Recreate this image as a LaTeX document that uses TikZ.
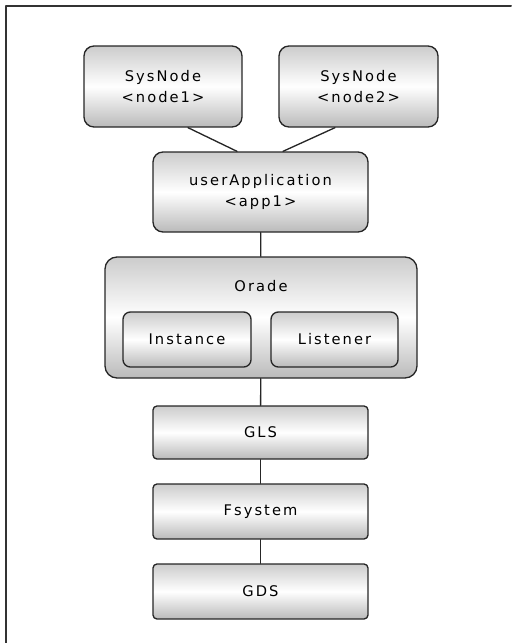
\documentclass[tikz,border=0pt]{standalone}
\usepackage{fontspec}
\setmainfont{DejaVu Sans}
\usetikzlibrary{calc}
\begin{document}
\begin{tikzpicture}[x=0.75pt,y=-0.75pt,line join=round,line cap=round,
	font=\fontsize{11}{13.5}\selectfont\addfontfeature{LetterSpace=14},
	box/.style={draw=black!85,line width=1pt,rounded corners=7.5pt,align=center,inner sep=0pt,
		top color=black!20,bottom color=black!27,middle color=white},
	flat/.style={box,rounded corners=3pt},
	link/.style={draw=black!85,line width=1pt}]
	\useasboundingbox (0,0) rectangle (511,643);
	\draw[line width=1.5pt,black!80] (5.5,643)--(5.5,5.5)--(511,5.5);
	\node[box,minimum width=118.5pt,minimum height=60.75pt] (sys1) at (163,86.5) {SysNode\\[2.5pt]<node1>};
	\node[box,minimum width=119.25pt,minimum height=60.75pt] (sys2) at (358.5,86.5) {SysNode\\[2.5pt]<node2>};
	\node[box,minimum width=161.25pt,minimum height=60pt] (app) at (260.5,192) {userApplication\\[2.5pt]<app1>};
	\node[box,rounded corners=9pt,minimum width=234pt,minimum height=90.75pt] (ora) at (261,317.5) {};
	\node (oratxt) at (261,286) {Orade};
	\node[box,rounded corners=5.5pt,minimum width=96pt,minimum height=41.25pt] (inst) at (187,339.5) {Instance};
	\node[box,rounded corners=5.5pt,minimum width=95.25pt,minimum height=41.25pt] (lis) at (334.5,339.5) {Listener};
	\node[flat,minimum width=161.25pt,minimum height=39.75pt] (gls) at (260.5,432.5) {GLS};
	\node[flat,minimum width=161.25pt,minimum height=41.25pt] (fsys) at (260.5,511.5) {Fsystem};
	\node[flat,minimum width=161.25pt,minimum height=41.25pt] (gds) at (260.5,591.5) {GDS};
	\draw[link] ($(sys1.south)+(25,0)$) -- ($(app.north)+(-23.5,0)$);
	\draw[link] ($(sys2.south)+(-23.5,0)$) -- ($(app.north)+(22.5,0)$);
	\draw[link] (app) -- (ora);
	\draw[link] (ora) -- (gls);
	\draw[link] (gls) -- (fsys);
	\draw[link] (fsys) -- (gds);
\end{tikzpicture}
\end{document}
